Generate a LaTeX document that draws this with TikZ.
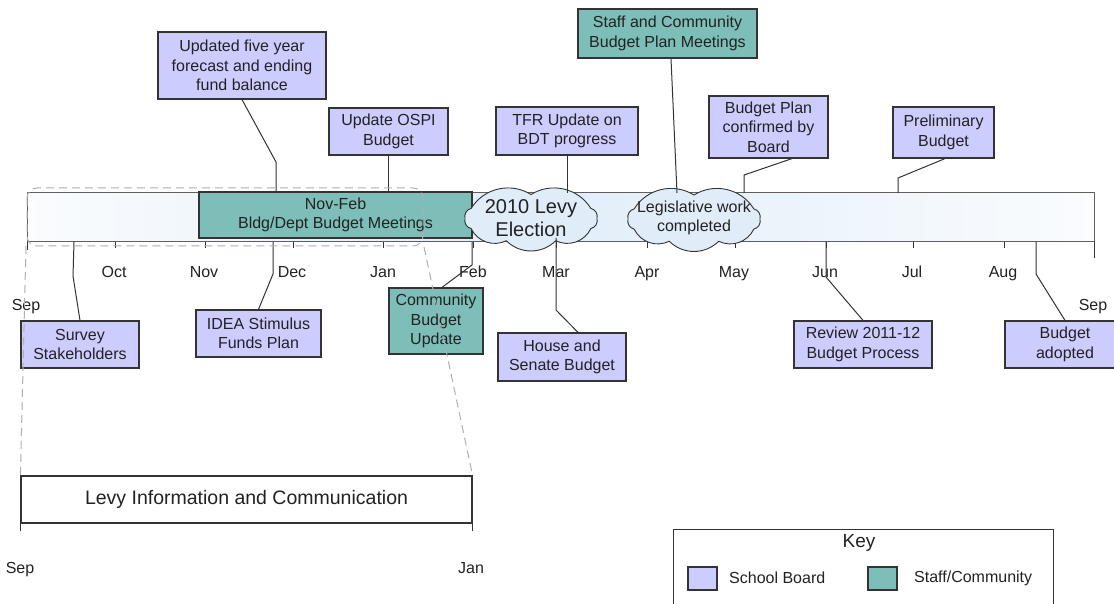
\documentclass[tikz,border=0pt]{standalone}
\usepackage{fontspec}
\setmainfont{Liberation Sans}
\definecolor{lav}{RGB}{204,204,255}
\definecolor{tealc}{RGB}{125,190,185}
\definecolor{edge}{RGB}{51,51,51}
\definecolor{baredge}{RGB}{95,95,95}
\definecolor{txt}{RGB}{34,34,34}
\definecolor{barL}{RGB}{250,252,254}
\definecolor{barM}{RGB}{224,237,249}
\definecolor{barR}{RGB}{250,252,254}
\definecolor{dashc}{RGB}{175,175,175}
\newcommand{\mycloud}[2]{%
  \begin{scope}[shift={(#1,#2)}, y=1pt]
    \path[cloudst] (0:66 and 24) to[bend right=45] (25:66 and 24)
      to[bend right=45] (90:66 and 24) to[bend right=45] (155:66 and 24)
      to[bend right=45] (180:66 and 24) to[bend right=45] (205:66 and 24)
      to[bend right=45] (248:66 and 24) to[bend right=45] (292:66 and 24)
      to[bend right=45] (335:66 and 24) to[bend right=45] (0:66 and 24) -- cycle;
  \end{scope}}
\begin{document}
\begin{tikzpicture}[x=1pt,y=-1pt,
  every node/.style={font=\fontsize{16}{19.5}\selectfont, text=txt},
  sb/.style={draw=edge, line width=1.2pt, fill=lav, align=center, inner sep=0pt},
  sc/.style={draw=edge, line width=1.2pt, fill=tealc, align=center, inner sep=0pt},
  conn/.style={draw=edge, line width=1pt},
  tickl/.style={draw=edge, line width=1pt},
  mon/.style={inner sep=0pt, anchor=base},
  cloudst/.style={draw=edge, line width=0.9pt, fill=barM},
  cltext/.style={inner sep=0pt, align=center},
  dsh/.style={draw=dashc, line width=1pt, dash pattern=on 8pt off 5pt}]
\useasboundingbox (0,0) rectangle (1114,604);
\fill[white] (0,0) rectangle (1114,604);

% timeline bar
\fill[left color=barL, right color=barM] (27,193) rectangle (530,242);
\fill[left color=barM, right color=barR] (530,193) rectangle (1094,242);
\node[draw=baredge, line width=1pt, minimum width=1067pt, minimum height=49pt, inner sep=0pt] (bar) at (560.5,217.5) {};

% ticks
\foreach \x in {115,205,293,383,473,556,647,735,826,913,1004}
  \draw[tickl] (\x,242) -- (\x,248);
\draw[tickl] (27,242) -- (27,250);
\draw[tickl] (1094,242) -- (1094,258);

% month labels
\node[mon] (sep1) at (26,310) {Sep};
\node[mon] (oct) at (114,277.5) {Oct};
\node[mon] (nov) at (204,277.5) {Nov};
\node[mon] (dec) at (292,277.5) {Dec};
\node[mon] (jan) at (383,277.5) {Jan};
\node[mon] (feb) at (473,277.5) {Feb};
\node[mon] (mar) at (556,277.5) {Mar};
\node[mon] (apr) at (647,277.5) {Apr};
\node[mon] (may) at (734,277.5) {May};
\node[mon] (jun) at (825,277.5) {Jun};
\node[mon] (jul) at (912,277.5) {Jul};
\node[mon] (aug) at (1003,277.5) {Aug};
\node[mon] (sep2) at (1093,310) {Sep};

% Nov-Feb box
\node[sc, minimum width=273pt, minimum height=46pt] (novfeb) at (335.5,215) {Nov-Feb\\Bldg/Dept Budget Meetings};

% clouds
\mycloud{531}{218.5}
\node[cltext, font=\fontsize{20}{23}\selectfont] (levyelt) at (531,218) {2010 Levy\\Election};
\mycloud{694}{219}
\node[cltext] (legist) at (694,218) {Legislative work\\completed};

% boxes above
\node[sb, minimum width=168pt, minimum height=67pt] (upd) at (242,65.5) {Updated five year\\forecast and ending\\fund balance};
\node[sb, minimum width=119pt, minimum height=47pt] (ospi) at (388.5,131.5) {Update OSPI\\Budget};
\node[sb, minimum width=142pt, minimum height=48pt] (tfr) at (567,131) {TFR Update on\\BDT progress};
\node[sc, minimum width=179pt, minimum height=49pt] (staff) at (667.5,33.5) {Staff and Community\\Budget Plan Meetings};
\node[sb, minimum width=119pt, minimum height=62pt] (bpc) at (768.5,127) {Budget Plan\\confirmed by\\Board};
\node[sb, minimum width=101pt, minimum height=51pt] (prelim) at (943.5,132.5) {Preliminary\\Budget};

% boxes below
\node[sb, minimum width=118pt, minimum height=47pt] (survey) at (80,344.5) {Survey\\Stakeholders};
\node[sb, minimum width=125pt, minimum height=47pt] (idea) at (258.5,333.5) {IDEA Stimulus\\Funds Plan};
\node[sc, minimum width=94pt, minimum height=66pt] (cbu) at (436,321) {Community\\Budget\\Update};
\node[sb, minimum width=128pt, minimum height=48pt] (house) at (562,357) {House and\\Senate Budget};
\node[sb, minimum width=138pt, minimum height=47pt] (review) at (863,344.5) {Review 2011-12\\Budget Process};
\node[sb, minimum width=120pt, minimum height=47pt] (adopted) at (1065,344.5) {Budget\\adopted};

% connector end points on the bar
\coordinate (pu1) at (276,162); \coordinate (pu2) at (276,193);
\coordinate (po2) at (388.5,193);
\coordinate (pt2) at (567,193);
\coordinate (ps2) at (677,193);
\coordinate (pb1) at (744,175); \coordinate (pb2) at (744,193);
\coordinate (pp1) at (898,178); \coordinate (pp2) at (898,193);
\coordinate (qs1) at (74,242); \coordinate (qs2) at (73,276);
\coordinate (qi1) at (273,242); \coordinate (qi2) at (273,274);
\coordinate (qc1) at (472,242); \coordinate (qc2) at (472,265);
\coordinate (qh1) at (556,238); \coordinate (qh2) at (556,310);
\coordinate (qr1) at (826,242); \coordinate (qr2) at (826,277);
\coordinate (qa1) at (1036,242); \coordinate (qa2) at (1036,274);

% connectors
\draw[conn] (upd.south) -- (pu1) -- (pu2);
\draw[conn] (ospi.south) -- (po2);
\draw[conn] (tfr.south) -- (pt2);
\draw[conn] ([xshift=3.5pt]staff.south) -- (ps2);
\draw[conn] ([xshift=23.5pt]bpc.south) -- (pb1) -- (pb2);
\draw[conn] ([xshift=1.5pt]prelim.south) -- (pp1) -- (pp2);
\draw[conn] (qs1) -- (qs2) -- (survey.north);
\draw[conn] (qi1) -- (qi2) -- (idea.north);
\draw[conn] (qc1) -- (qc2) -- ([xshift=6pt]cbu.north);
\draw[conn] (qh1) -- (qh2) -- ([xshift=16pt]house.north);
\draw[conn] (qr1) -- (qr2) -- (review.north);
\draw[conn] (qa1) -- (qa2) -- (adopted.north);

% levy information section
\node[draw=edge, line width=1.2pt, fill=white, minimum width=451pt, minimum height=47pt, inner sep=0pt, font=\fontsize{19.5}{22}\selectfont] (levy) at (246.5,499.5) {Levy Information and Communication};
\draw[tickl] (levy.south west) -- ++(0,7);
\draw[tickl] (levy.south east) -- ++(0,7);
\node[mon] (sep3) at (20,573) {Sep};
\node[mon] (jan2) at (471,573) {Jan};

% dashed zoom outline
\draw[dsh, rounded corners=10pt] (27,188) rectangle (423,246);
\coordinate (dl) at (26,246);
\coordinate (dr) at (424,247);
\draw[dsh] (dl) -- (levy.north west);
\draw[dsh] (dr) -- (levy.north east);

% key
\node[draw=edge, line width=1pt, fill=white, anchor=north west, minimum width=380pt, minimum height=90pt, inner sep=0pt] (key) at (673,529) {};
\node[inner sep=0pt, font=\fontsize{19}{22}\selectfont] (keyt) at (859,543) {Key};
\node[sb, minimum width=29pt, minimum height=23pt] (k1) at (702.5,578.5) {};
\node[anchor=west, inner sep=0pt] (k1t) at (729,578) {School Board};
\node[sc, minimum width=29pt, minimum height=23pt] (k2) at (882.5,578.5) {};
\node[anchor=west, inner sep=0pt] (k2t) at (914,578) {Staff/Community};
\end{tikzpicture}
\end{document}
